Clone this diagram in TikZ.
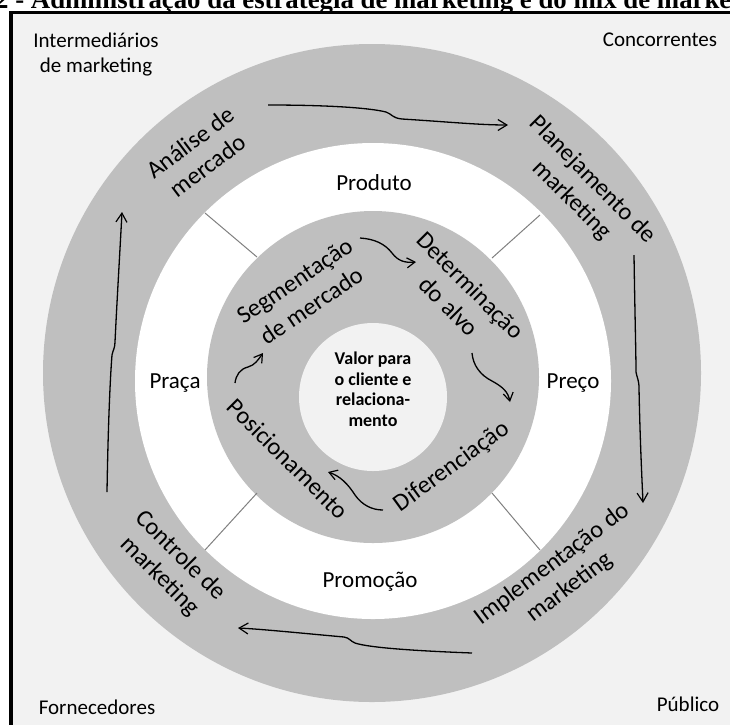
\documentclass[tikz,border=0pt]{standalone}
\usepackage{fontspec}
\setmainfont{Carlito}
\newfontfamily\titlefont{Liberation Serif}
\usetikzlibrary{arrows.meta}
\definecolor{ringgrey}{HTML}{BFBFBF}
\definecolor{paper}{HTML}{F2F2F2}
\definecolor{divider}{HTML}{808080}
\tikzset{
  corner/.style={font=\fontsize{21}{24.5}\selectfont, align=center, inner sep=0pt},
  mixlbl/.style={font=\fontsize{23}{27}\selectfont, inner sep=0pt},
  ringlbl/.style={font=\fontsize{24.5}{29}\selectfont, align=center, inner sep=0pt},
  steplbl/.style={font=\fontsize{24.5}{30}\selectfont, align=center, inner sep=0pt},
  corelbl/.style={font=\bfseries\fontsize{18}{20.5}\selectfont, align=center, inner sep=0pt},
  flow/.style={line width=1.3pt, -{Straight Barb[length=9pt,width=11pt,line width=1.2pt]}},
  cycle/.style={line width=1.3pt, -{Straight Barb[length=8pt,width=10pt,line width=1.2pt]}},
  split/.style={divider, line width=1pt}
}
\begin{document}
\begin{tikzpicture}[x=1pt,y=-1pt]
\useasboundingbox (0,0) rectangle (730,724);
\begin{scope}
\clip (0,0) rectangle (730,724);
% framed panel
\fill[paper] (11,12.5) rectangle (745,745);
% concentric rings
\fill[ringgrey] (372,373) circle[radius=329];
\fill[white] (373,381) circle[radius=238];
\fill[ringgrey] (373,377) circle[radius=166];
\fill[paper] (373,397) circle[radius=74];
% marketing-mix dividers
\draw[split] (205,213) -- (257,257);
\draw[split] (540,215) -- (492,258);
\draw[split] (492,493) -- (540,550);
\draw[split] (257,493) -- (205,550);
% frame
\draw[line width=3.2pt] (11,745) -- (11,12.5) -- (745,12.5);
% heading
\node[anchor=base west, inner sep=0pt, font=\titlefont\bfseries\fontsize{26.8}{30}\selectfont] (title) at (-5,8.5)
  {2 - Administração da estratégia de marketing e do mix de marketing};
\end{scope}

% environment
\node[corner, anchor=base] (interm) at (96,72) {Intermediários\\de marketing};
\node[corner, anchor=base] (conc) at (660,46) {Concorrentes};
\node[corner, anchor=base] (forn) at (97,714) {Fornecedores};
\node[corner, anchor=base] (publ) at (688,711) {Público};

% marketing mix
\node[mixlbl] (produto) at (374,183) {Produto};
\node[mixlbl] (praca) at (175,383) {Praça};
\node[mixlbl] (preco) at (573,383) {Preço};
\node[mixlbl] (promo) at (370,582) {Promoção};

% management process
\node[ringlbl, rotate=37] (analise) at (199,154) {Análise de\\mercado};
\node[ringlbl, rotate=-45] (plan) at (582,190) {Planejamento de\\marketing};
\node[ringlbl, rotate=37] (impl) at (561,576) {Implementação do\\marketing};
\node[ringlbl, rotate=-45] (ctrl) at (170,566) {Controle de\\marketing};

% strategy steps
\node[steplbl, rotate=34] (seg) at (303,293) {Segmentação\\de mercado};
\node[steplbl, rotate=-45] (alvo) at (460,296) {Determinação\\do alvo};
\node[steplbl, rotate=36] (dif) at (452,467) {Diferenciação};
\node[steplbl, rotate=-45] (pos) at (288,459) {Posicionamento};

% core
\node[corelbl] (core) at (373,389) {Valor para\\o cliente e\\relaciona-\\mento};

% arrow end points
\coordinate (a1) at (268,105);  \coordinate (b1) at (508,125);
\coordinate (a2) at (634,255);  \coordinate (b2) at (643,503);
\coordinate (a3) at (472,653);  \coordinate (b3) at (238,628);
\coordinate (a4) at (107,492);  \coordinate (b4) at (122,212);
\coordinate (c1) at (360,238);  \coordinate (d1) at (416,262);
\coordinate (c2) at (472,353);  \coordinate (d2) at (510,402);
\coordinate (c3) at (383,510);  \coordinate (d3) at (328,472);
\coordinate (c4) at (235,383);  \coordinate (d4) at (263,353);

% outer cycle
\draw[flow] (a1) .. controls (330,105) and (370,108) .. (386,112)
  .. controls (392,114) and (392,118) .. (402,119)
  .. controls (450,122) and (480,125) .. (b1);
\draw[flow] (a2) .. controls (635,320) and (636,355) .. (636,372)
  .. controls (637,378) and (639,380) .. (639,388)
  .. controls (640,440) and (642,480) .. (b2);
\draw[flow] (a3) .. controls (420,651) and (370,648) .. (355,643)
  .. controls (350,641) and (350,638) .. (344,637)
  .. controls (300,633) and (260,629) .. (b3);
\draw[flow] (a4) .. controls (108,430) and (110,380) .. (112,355)
  .. controls (113,350) and (115,348) .. (115,342)
  .. controls (117,300) and (120,250) .. (b4);

% inner cycle
\draw[cycle] (c1) .. controls (375,239) and (385,244) .. (392,253)
  .. controls (398,261) and (405,263) .. (d1);
\draw[cycle] (c2) .. controls (473,365) and (480,375) .. (492,381)
  .. controls (503,387) and (508,392) .. (d2);
\draw[cycle] (c3) .. controls (372,510) and (362,505) .. (355,495)
  .. controls (348,484) and (340,476) .. (d3);
\draw[cycle] (c4) .. controls (236,375) and (240,369) .. (248,367)
  .. controls (255,365) and (258,360) .. (d4);
\end{tikzpicture}
\end{document}
